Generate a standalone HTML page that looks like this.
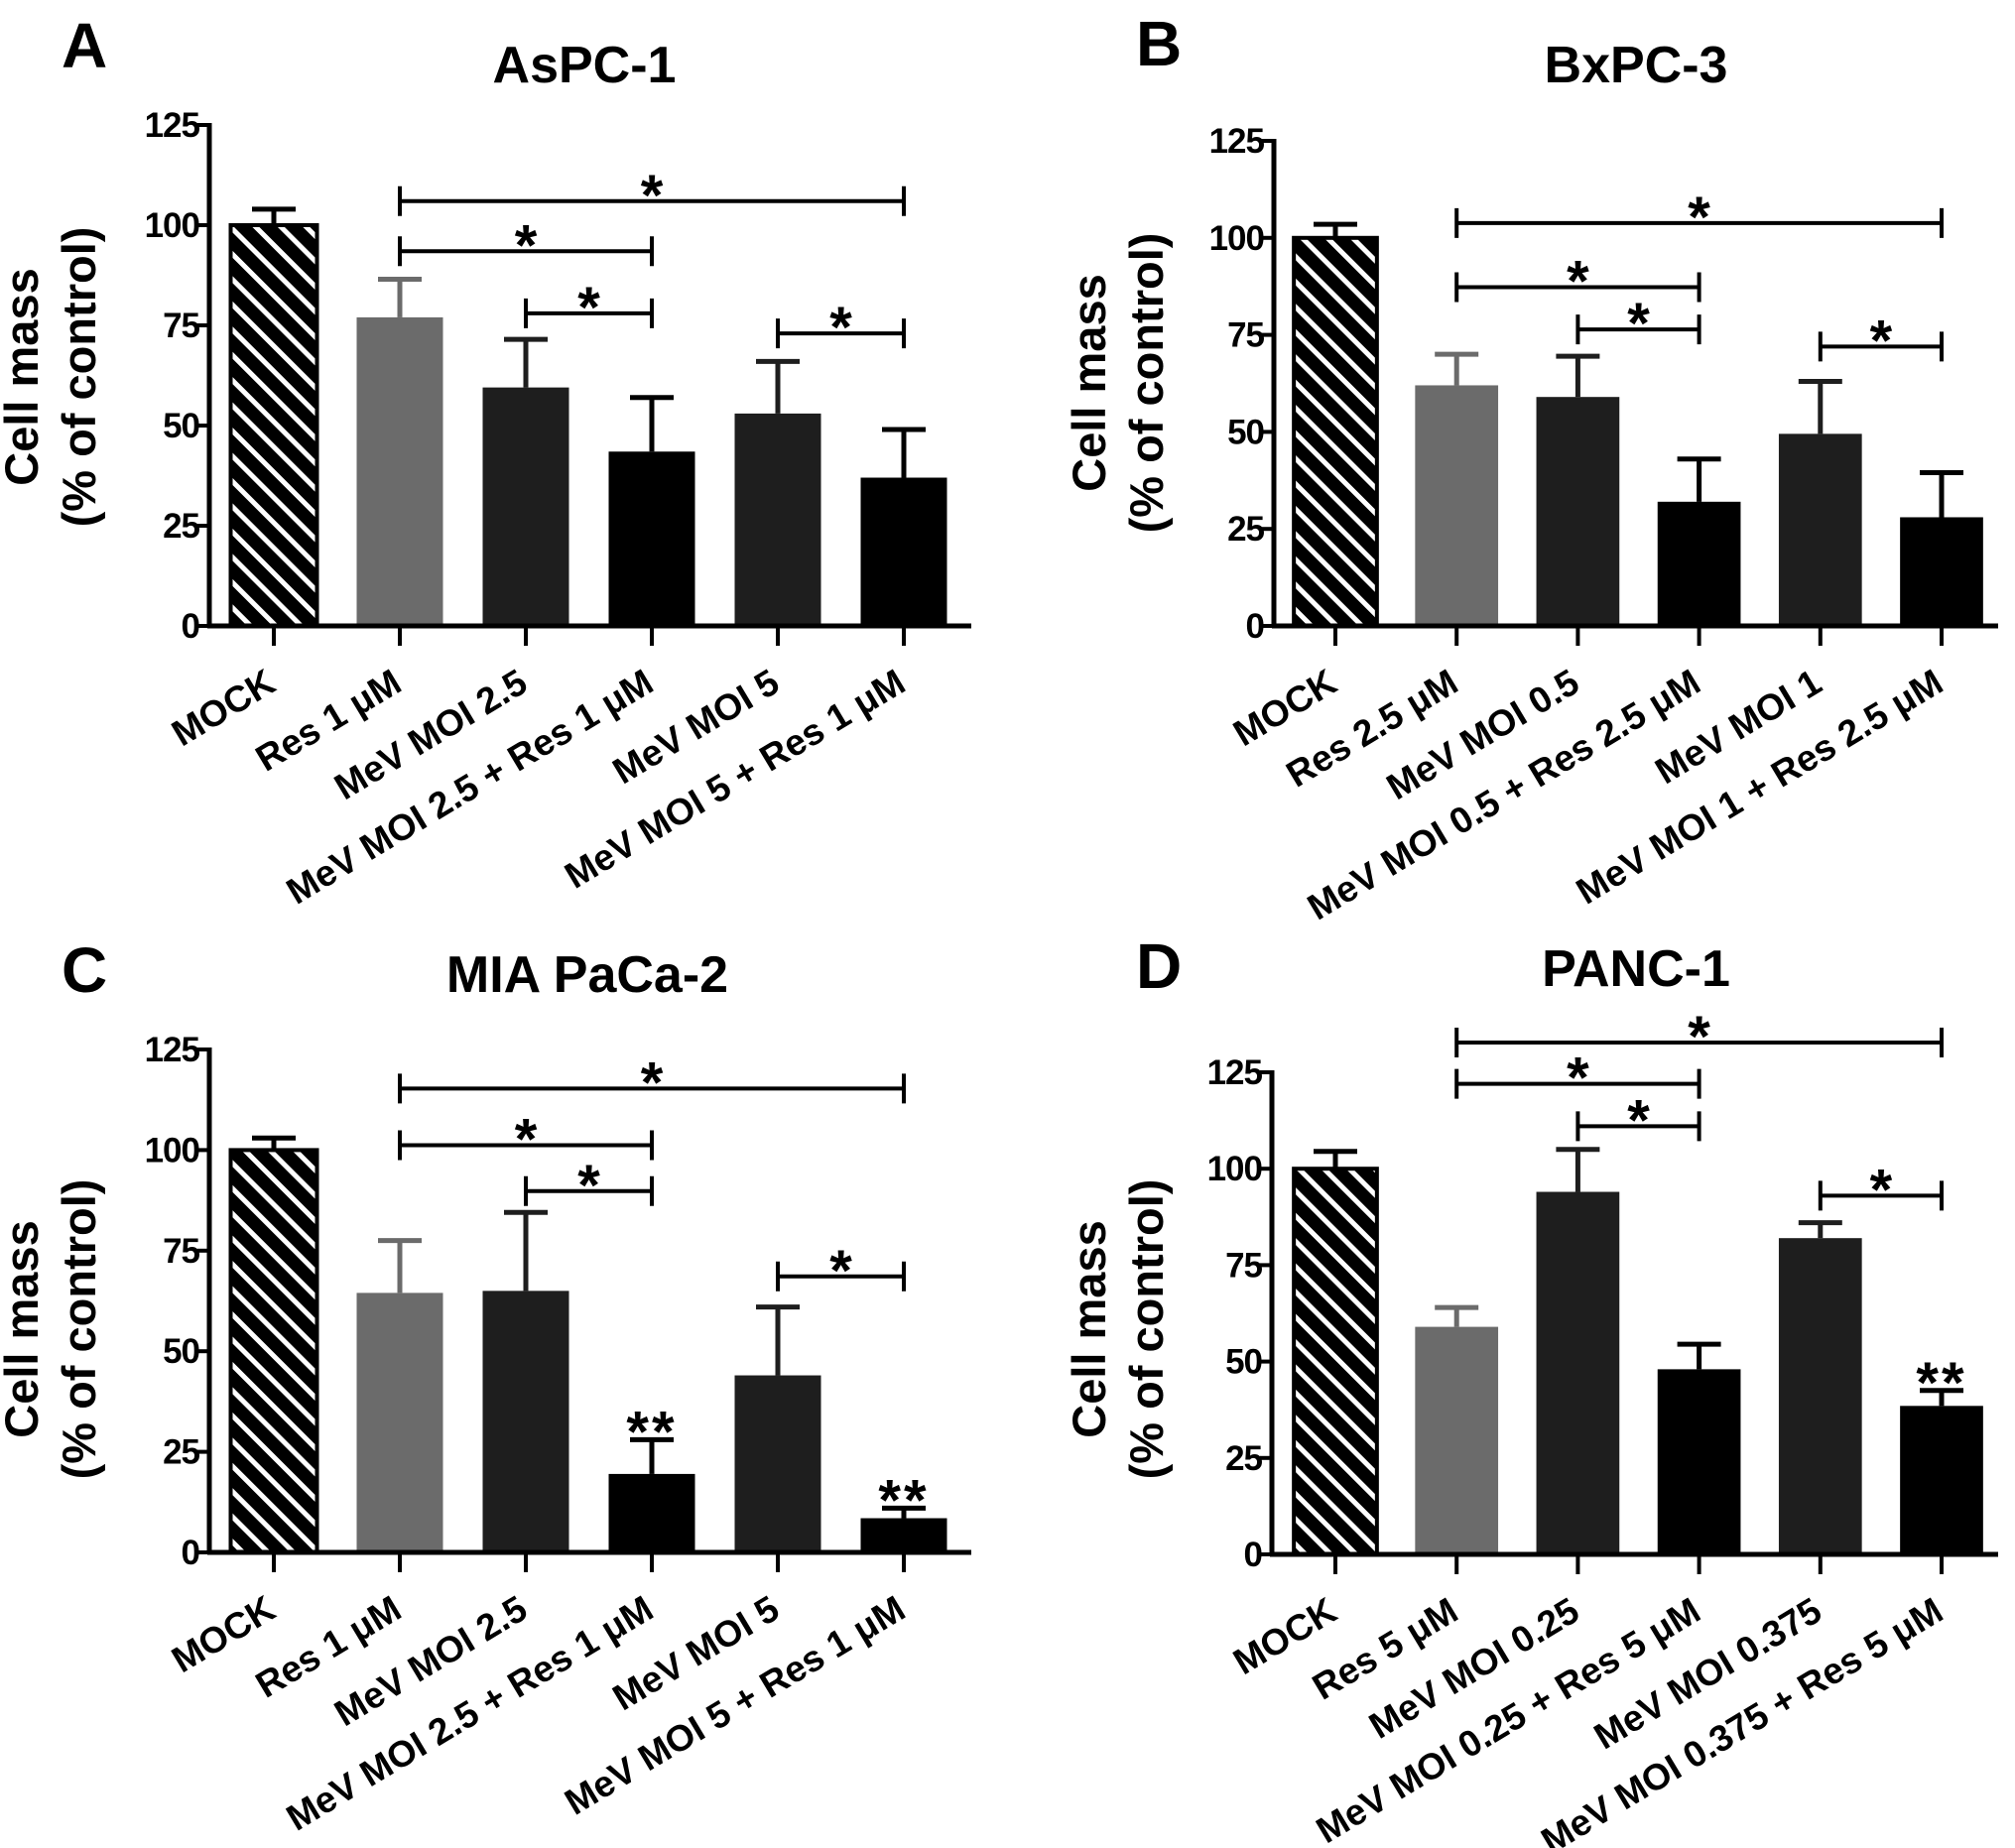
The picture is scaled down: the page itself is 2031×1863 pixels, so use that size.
<!DOCTYPE html>
<html><head><meta charset="utf-8">
<style>
html,body{margin:0;padding:0;background:#fff;}
svg{display:block;font-family:"Liberation Sans",Arial,sans-serif;font-weight:bold;}
</style></head>
<body>
<svg id="fig" width="2031" height="1863" viewBox="0 0 2031 1863" xmlns="http://www.w3.org/2000/svg">
<defs>
<pattern id="hatch" patternUnits="userSpaceOnUse" width="18" height="18" patternTransform="rotate(-45)">
<rect width="18" height="18" fill="#000"/><rect x="0" y="0" width="5" height="18" fill="#fff"/>
</pattern>
</defs>
</svg>
<script>
// ---- data ----
const catsA = ["MOCK","Res 1 μM","MeV MOI 2.5","MeV MOI 2.5 + Res 1 μM","MeV MOI 5","MeV MOI 5 + Res 1 μM"];
const valsA = [100,77,59.5,43.5,53,37];
const errsA = [104,86.5,71.5,57,66,49];
const sigA = [[1,3,93.5],[1,5,106],[2,3,78],[4,5,73]];
const starA = [];

const catsB = ["MOCK","Res 2.5 μM","MeV MOI 0.5","MeV MOI 0.5 + Res 2.5 μM","MeV MOI 1","MeV MOI 1 + Res 2.5 μM"];
const valsB = [100,62,59,32,49.5,28];
const errsB = [103.5,70,69.5,43,63,39.5];
const sigB = [[1,5,103.8],[1,3,87.3],[2,3,76.4],[4,5,72]];
const starB = [];

const catsC = ["MOCK","Res 1 μM","MeV MOI 2.5","MeV MOI 2.5 + Res 1 μM","MeV MOI 5","MeV MOI 5 + Res 1 μM"];
const valsC = [100,64.5,65,19.5,44,8.5];
const errsC = [103,77.5,84.5,28,61,11];
const sigC = [[1,5,115.3],[1,3,101.2],[2,3,89.8],[4,5,68.6]];
const starC = [3,5];

const catsD = ["MOCK","Res 5 μM","MeV MOI 0.25","MeV MOI 0.25 + Res 5 μM","MeV MOI 0.375","MeV MOI 0.375 + Res 5 μM"];
const valsD = [100,59,94,48,82,38.5];
const errsD = [104.5,64,105,54.5,86,42.5];
const sigD = [[1,5,132.7],[1,3,122],[2,3,111],[4,5,93]];
const starD = [5];

const yTicks = [0,25,50,75,100,125];
const titles = ["AsPC-1","BxPC-3","MIA PaCa-2","PANC-1"];
const letters = ["A","B","C","D"];

// ---- layout ----
const panels = [
 {cats:catsA,vals:valsA,errs:errsA,sig:sigA,star:starA,ax:211,y0:631,ppu:4.04,c0:276,step:127,xEnd:979,tx:589,ty:83,lx:62,ly:68,ytx:62,yty:380},
 {cats:catsB,vals:valsB,errs:errsB,sig:sigB,star:starB,ax:1284,y0:631,ppu:3.912,c0:1346,step:122.2,xEnd:2014,tx:1649,ty:83,lx:1145,ly:66,ytx:1138,yty:386},
 {cats:catsC,vals:valsC,errs:errsC,sig:sigC,star:starC,ax:211,y0:1565,ppu:4.056,c0:276,step:127,xEnd:979,tx:592,ty:1000,lx:62,ly:1000,ytx:62,yty:1340},
 {cats:catsD,vals:valsD,errs:errsD,sig:sigD,star:starD,ax:1282,y0:1567,ppu:3.888,c0:1346,step:122.2,xEnd:2014,tx:1649,ty:994,lx:1145,ly:996,ytx:1138,yty:1340}
];
const fills = ["url(#hatch)","#6b6b6b","#1e1e1e","#000","#1e1e1e","#000"];
const NS="http://www.w3.org/2000/svg";
const svg=document.getElementById('fig');
function mk(tag,attrs,parent,text){const e=document.createElementNS(NS,tag);for(const k in attrs)e.setAttribute(k,attrs[k]);if(text!==undefined)e.textContent=text;parent.appendChild(e);return e;}

panels.forEach((p,pi)=>{
 const g=mk('g',{},svg);
 
 
 const Y=v=>p.y0-v*p.ppu;
 const X=i=>p.c0+i*p.step;
 const bw=p.step*0.685;
 let t=mk('text',{x:p.lx,y:p.ly,'font-size':64},g,letters[pi]);
 
 
 t=mk('text',{x:p.tx,y:p.ty,'font-size':52,'text-anchor':'middle'},g,titles[pi]);
 
 
 const yt=mk('text',{transform:`translate(${p.ytx},${p.yty}) rotate(-90)`,'font-size':47,'text-anchor':'middle'},g);
 
 
 mk('tspan',{x:0,dy:-24},yt,'Cell mass');
 mk('tspan',{x:0,dy:58},yt,'(% of control)');
 // bars
 p.vals.forEach((v,i)=>{
  const col=i===1?'#6b6b6b':(i===2||i===4?'#1e1e1e':'#000');
  let l=mk('line',{x1:X(i),x2:X(i),y1:Y(v),y2:Y(p.errs[i]),stroke:col,'stroke-width':5},g);
  
  
  l=mk('line',{x1:X(i)-22,x2:X(i)+22,y1:Y(p.errs[i]),y2:Y(p.errs[i]),stroke:col,'stroke-width':5},g);
  
  
  const r=mk('rect',{x:X(i)-bw/2,y:Y(v),width:bw,height:v*p.ppu,fill:fills[i],stroke:i===0?'#000':'none','stroke-width':i===0?4:0},g);
  
  
 });
 // axes
 let a=mk('line',{x1:p.ax,x2:p.ax,y1:Y(0)+2,y2:Y(125)-2,stroke:'#000','stroke-width':5},g);
 
 
 a=mk('line',{x1:p.ax-2,x2:p.xEnd,y1:Y(0),y2:Y(0),stroke:'#000','stroke-width':5},g);
 
 
 yTicks.forEach(v=>{
  mk('line',{x1:p.ax-12,x2:p.ax,y1:Y(v),y2:Y(v),stroke:'#000','stroke-width':4},g);
  const tl=mk('text',{x:p.ax-10,y:Y(v)+12,'font-size':35,'text-anchor':'end','letter-spacing':-1},g,String(v));
  
  
 });
 p.cats.forEach((c,i)=>{
  mk('line',{x1:X(i),x2:X(i),y1:Y(0),y2:Y(0)+20,stroke:'#000','stroke-width':4},g);
  const xl=mk('text',{transform:`translate(${X(i)+4},${Y(0)+64}) rotate(-31)`,'font-size':37,'text-anchor':'end'},g,c);
  
  
 });
 // significance brackets
 p.sig.forEach(s=>{
  const x1=X(s[0]),x2=X(s[1]),y=Y(s[2]);
  const b=mk('path',{d:`M${x1},${y-15}V${y+15}M${x1},${y}H${x2}M${x2},${y-15}V${y+15}`,stroke:'#000','stroke-width':4,fill:'none'},g);
  
  
  const st=mk('text',{x:(x1+x2)/2,y:y+14,'font-size':58,'text-anchor':'middle'},g,'*');
  
  
 });
 p.star.forEach(i=>{
  const st=mk('text',{x:X(i),y:Y(p.errs[i])+12,'font-size':58,'text-anchor':'middle','letter-spacing':3},g,'**');
  
  
 });
});
</script>
</body></html>
